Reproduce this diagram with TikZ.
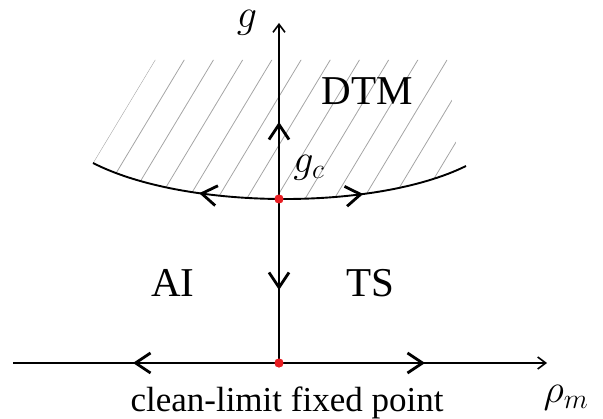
\RequirePackage{fix-cm}
\documentclass[tikz,border=0pt]{standalone}
\usepackage{fontspec}
\setmainfont{Liberation Serif}
\usetikzlibrary{arrows.meta,decorations.markings}
\definecolor{dotred}{RGB}{232,30,35}
\definecolor{hatchgray}{RGB}{165,165,165}
\tikzset{
  chev/.tip={Straight Barb[length=15pt,width=20pt,line width=2.8pt]},
  axtip/.tip={Straight Barb[length=8pt,width=12pt,line width=1.6pt]},
}
\begin{document}
\begin{tikzpicture}[x=1pt,y=-1pt,
  axisline/.style={line width=1.9pt},
  hatchline/.style={draw=hatchgray,line width=0.8pt},
  reddot/.style={circle,fill=dotred,inner sep=0pt,minimum size=9pt},
  bigtxt/.style={font=\fontsize{41}{48}\selectfont,inner sep=0pt,anchor=base},
  bottxt/.style={font=\fontsize{35}{42}\selectfont,inner sep=0pt,anchor=base},
  mathlbl/.style={font=\fontsize{40}{46}\selectfont,inner sep=0pt,anchor=base}]
\useasboundingbox (0,0) rectangle (603,419);
% hatching
\begin{scope}
  \clip (93,163) .. controls (185,210) and (375,211) .. (466,166)
        -- (455,140) -- (452,102) -- (447,60) -- (155,60) -- cycle;
  \foreach \k in {-3,...,14}{
    \draw[hatchline] ({155+29.2*\k+31},8.5) -- ++(-186,309);
  }
\end{scope}
% coordinates
\coordinate (cl) at (93,163);
\coordinate (cr) at (466,166);
\coordinate (hl) at (13,363);
\coordinate (hr) at (547,363);
\coordinate (vt) at (279,23);
\node[reddot] (O) at (279,363) {};
\node[reddot] (gcpt) at (279,199) {};
% curve
\draw[axisline,postaction={decorate},decoration={markings,
   mark=at position 0.29 with {\arrowreversed{chev}},
   mark=at position 0.72 with {\arrow{chev}}}]
  (cl) .. controls (185,210) and (375,211) .. (cr);
% horizontal axis
\draw[axisline,-{axtip},postaction={decorate},decoration={markings,
   mark=at position 120pt with {\arrowreversed{chev}},
   mark=at position 412pt with {\arrow{chev}}}]
  (hl) -- (hr);
% vertical axis
\draw[axisline,-{axtip},postaction={decorate},decoration={markings,
   mark=at position 73pt with {\arrowreversed{chev}},
   mark=at position 241pt with {\arrow{chev}}}]
  (O.center) -- (vt);
% dots on top
\node[reddot] at (O) {};
\node[reddot] at (gcpt) {};
% labels
\node[mathlbl] (glbl) at (247,28) {$g$};
\node[mathlbl] (gclbl) at (309,173) {$g_c$};
\node[mathlbl] (rholbl) at (566,403) {$\rho_m$};
\node[bigtxt] (dtm) at (367,105) {DTM};
\node[bigtxt] (ai) at (173,297) {AI};
\node[bigtxt] (ts) at (370,297) {TS};
\node[bottxt] (clean) at (287,412) {clean-limit fixed point};
\end{tikzpicture}
\end{document}
